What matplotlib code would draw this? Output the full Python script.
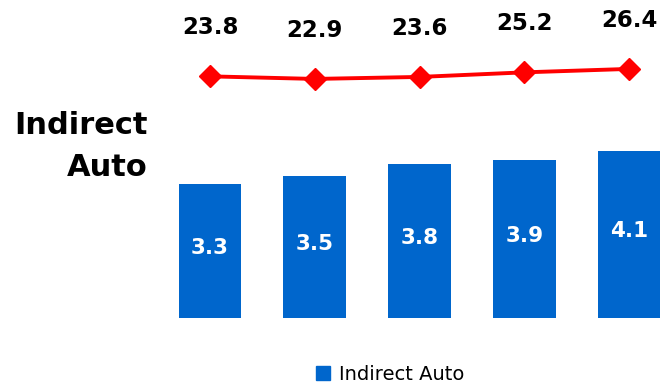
import matplotlib
matplotlib.use("Agg")
import matplotlib.pyplot as plt
from matplotlib.patches import Patch

years = ["Q1", "Q2", "Q3", "Q4", "Q5"]
balances = [3.3, 3.5, 3.8, 3.9, 4.1]
yields = [23.8, 22.9, 23.6, 25.2, 26.4]
series_name = "Indirect Auto"

BLUE = "#0066CC"
RED = "#FF0000"

W, H = 662, 386
fig = plt.figure(figsize=(W / 100, H / 100), dpi=100)

# axes placed in pixel terms: bars baseline at y=318 px from top
left_px, right_px, top_px, bottom_px = 150, 662, 0, 318
ax = fig.add_axes([left_px / W, 1 - bottom_px / H,
                   (right_px - left_px) / W, (bottom_px - top_px) / H])
x = list(range(len(years)))
ax.bar(x, balances, width=0.6, color=BLUE, zorder=2)
ax.set_xlim(-0.573, 4.315)
ax.set_ylim(0, 7.83)
for xi, v in zip(x, balances):
    ax.text(xi, v / 2 + 0.08, f"{v}", ha="center", va="center", color="white",
            fontsize=15.5, fontweight="bold")
ax.axis("off")

ax2 = ax.twinx()
ax2.plot(x, yields, color=RED, lw=2.8, marker="D", ms=11, mec=RED, mfc=RED, zorder=3)
ax2.set_ylim(-60.7, 50.5)
for xi, v in zip(x, yields):
    ax2.annotate(f"{v}", (xi, v), xytext=(0, 35), textcoords="offset points",
                 ha="center", va="center", fontsize=16.5, fontweight="bold",
                 color="black")
ax2.axis("off")

fig.text(148 / W, 1 - 125 / H, "Indirect", ha="right", va="center",
         fontsize=22, fontweight="bold")
fig.text(148 / W, 1 - 168 / H, "Auto", ha="right", va="center",
         fontsize=22, fontweight="bold")

fig.legend(handles=[Patch(color=BLUE, label=series_name)],
           loc="center", bbox_to_anchor=(390 / W, 1 - 374 / H),
           frameon=False, fontsize=14, handlelength=0.75, handleheight=0.75,
           handletextpad=0.45)

fig.savefig("out.png", dpi=100)
